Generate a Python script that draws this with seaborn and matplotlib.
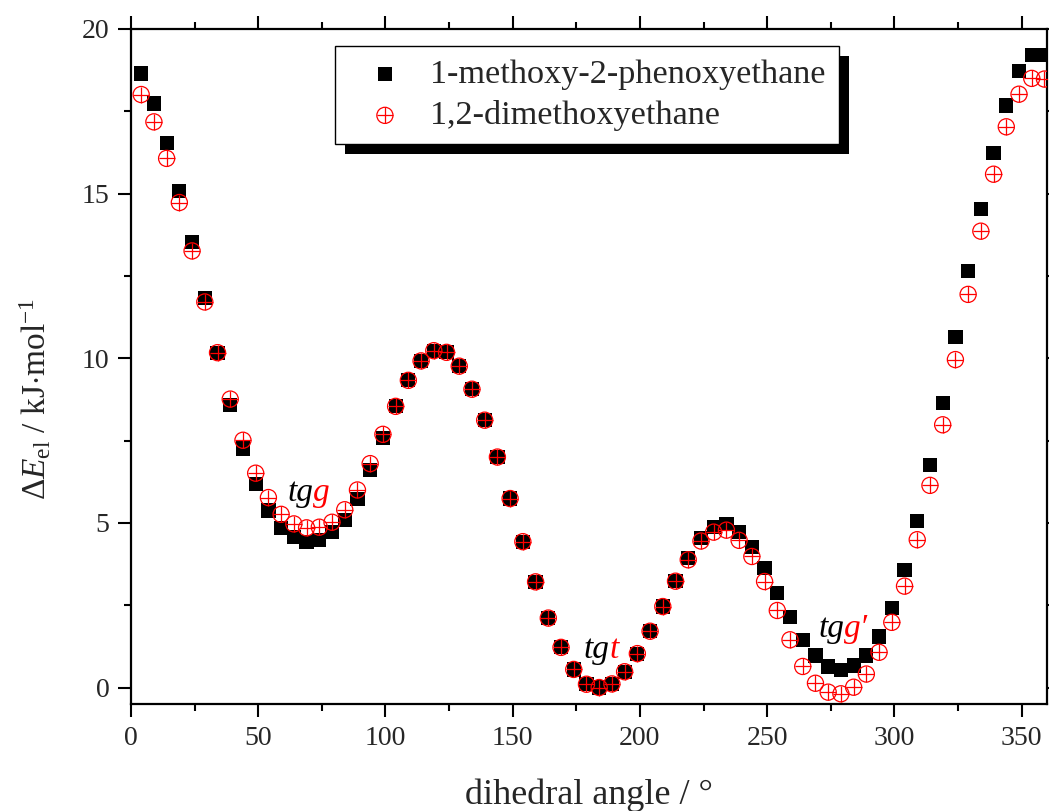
import numpy as np
import pandas as pd
import matplotlib
matplotlib.use('Agg')
import matplotlib.pyplot as plt
import seaborn as sns
from matplotlib.patches import Rectangle
from matplotlib.ticker import MultipleLocator
from matplotlib.legend_handler import HandlerTuple

# ---- data ----
angle = [4, 9, 14, 19, 24, 29, 34, 39, 44, 49, 54, 59, 64, 69, 74, 79, 84, 89,
         94, 99, 104, 109, 114, 119, 124, 129, 134, 139, 144, 149, 154, 159,
         164, 169, 174, 179, 184, 189, 194, 199, 204, 209, 214, 219, 224, 229,
         234, 239, 244, 249, 254, 259, 264, 269, 274, 279, 284, 289, 294, 299,
         304, 309, 314, 319, 324, 329, 334, 339, 344, 349, 354, 359]
e_methoxy_phenoxy = [18.65, 17.74, 16.53, 15.09, 13.52, 11.83, 10.17, 8.58, 7.26,
                     6.19, 5.38, 4.85, 4.57, 4.42, 4.47, 4.72, 5.08, 5.73, 6.60,
                     7.59, 8.54, 9.33, 9.92, 10.23, 10.18, 9.76, 9.06, 8.12, 7.00,
                     5.74, 4.43, 3.21, 2.11, 1.22, 0.55, 0.10, 0.00, 0.11, 0.48,
                     1.03, 1.71, 2.46, 3.23, 3.94, 4.55, 4.87, 4.97, 4.72, 4.27,
                     3.62, 2.87, 2.14, 1.45, 0.97, 0.64, 0.54, 0.67, 0.97, 1.55,
                     2.41, 3.58, 5.05, 6.77, 8.64, 10.65, 12.64, 14.53, 16.24,
                     17.68, 18.73, 19.21, 19.20]
e_dimethoxy = [18.01, 17.18, 16.07, 14.73, 13.26, 11.71, 10.17, 8.76, 7.51, 6.51,
               5.77, 5.26, 4.97, 4.85, 4.87, 5.02, 5.40, 6.00, 6.80, 7.69, 8.54,
               9.33, 9.92, 10.23, 10.18, 9.76, 9.06, 8.12, 7.00, 5.74, 4.43, 3.21,
               2.11, 1.22, 0.55, 0.10, 0.00, 0.11, 0.48, 1.03, 1.71, 2.46, 3.23,
               3.88, 4.45, 4.72, 4.78, 4.47, 3.98, 3.22, 2.34, 1.45, 0.64, 0.13,
               -0.14, -0.19, 0.01, 0.41, 1.07, 1.98, 3.08, 4.49, 6.14, 7.98, 9.96,
               11.94, 13.86, 15.59, 17.03, 18.02, 18.50, 18.48]
series_names = ['1-methoxy-2-phenoxyethane', '1,2-dimethoxyethane']

# conformer labels: (x, y, black part, red part)
conf_x = [71.7, 188.2, 280.3]
conf_y = [5.68, 0.91, 1.52]
conf_black = ['tg', 'tg', 'tg']
conf_red = ['g', 't', 'g\u2032']

# ---- style ----
sns.set_style('ticks')
plt.rcParams['font.family'] = ['Liberation Serif', 'DejaVu Serif']
plt.rcParams['mathtext.fontset'] = 'custom'
plt.rcParams['mathtext.rm'] = 'Liberation Serif'
plt.rcParams['mathtext.it'] = 'Liberation Serif:italic'

fig = plt.figure(figsize=(10.49, 8.11), dpi=100)
ax = fig.add_axes([131 / 1049, 1 - 704 / 811, 916 / 1049, 675 / 811])

df = pd.DataFrame({'angle': angle, 'mpe': e_methoxy_phenoxy, 'dme': e_dimethoxy})

sns.scatterplot(data=df, x='angle', y='mpe', marker='s', s=105, color='black',
                edgecolor='none', ax=ax, zorder=3)
sns.scatterplot(data=df, x='angle', y='dme', marker='o', s=135, color='red',
                facecolors='none', edgecolors='red', linewidth=0.9, ax=ax, zorder=4)
sns.scatterplot(data=df, x='angle', y='dme', marker='+', s=135, color='red',
                linewidth=0.9, ax=ax, zorder=4)

ax.set_xlim(0, 360)
ax.set_ylim(-0.5, 20)
ax.xaxis.set_major_locator(MultipleLocator(50))
ax.xaxis.set_minor_locator(MultipleLocator(25))
ax.yaxis.set_major_locator(MultipleLocator(5))
ax.yaxis.set_minor_locator(MultipleLocator(2.5))
ax.tick_params(which='both', direction='out', top=True, right=True,
               labeltop=False, labelright=False, width=1.5, color='black',
               labelsize=20, pad=6)
ax.tick_params(which='major', length=9.5)
ax.tick_params(which='minor', length=5)
for sp in ax.spines.values():
    sp.set_linewidth(1.6)
    sp.set_color('black')

ax.set_xlabel('dihedral angle / \u00b0', fontsize=26, labelpad=20)
ax.set_ylabel(r'$\Delta E_{\mathrm{el}}$ / kJ$\cdot$mol$^{-1}$', fontsize=24)
ax.yaxis.set_label_coords(-0.085, 0.452)

for x, y, b, r in zip(conf_x, conf_y, conf_black, conf_red):
    ax.text(x, y, b, ha='right', va='baseline', style='italic', fontsize=24,
            color='black', zorder=6)
    ax.text(x, y, r, ha='left', va='baseline', style='italic', fontsize=24,
            color='red', zorder=6)

h_sq = ax.collections[0]
h_circ = (ax.collections[1], ax.collections[2])
leg = ax.legend(handles=[h_sq, h_circ], labels=series_names,
                handler_map={tuple: HandlerTuple(ndivide=1)},
                loc='upper left', bbox_to_anchor=(0.2227, 0.9748),
                borderaxespad=0, frameon=True, fancybox=False,
                edgecolor='black', framealpha=1, fontsize=24.7,
                markerscale=1.0, handletextpad=0.25, borderpad=0.38,
                labelspacing=0.3, handlelength=2.15, scatterpoints=1)
leg.get_frame().set_linewidth(1.0)
leg.set_zorder(10)

fig.canvas.draw()
bb = leg.get_window_extent()
inv = ax.transAxes.inverted()
(x0, y0) = inv.transform((bb.x0 + 10, bb.y0 - 10))
(x1, y1) = inv.transform((bb.x1 + 10, bb.y1 - 10))
ax.add_patch(Rectangle((x0, y0), x1 - x0, y1 - y0, transform=ax.transAxes,
                       facecolor='black', edgecolor='none', clip_on=False,
                       zorder=9))

fig.savefig('out.png', dpi=100)
